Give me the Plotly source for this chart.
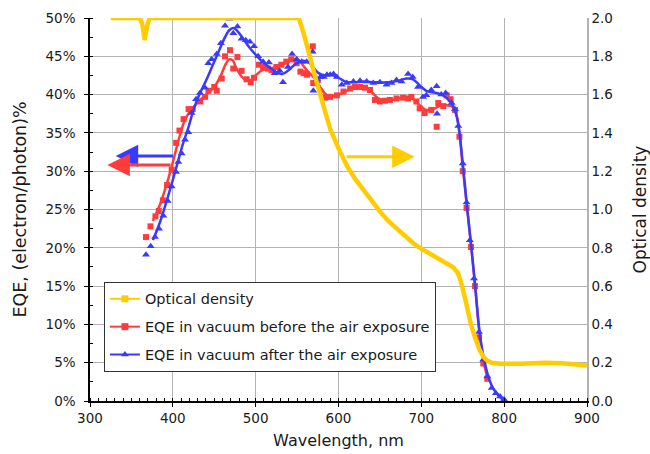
import plotly.graph_objects as go

# ---------------- data ----------------
od_wl = [325, 360, 363, 366, 369, 372, 450, 552, 558, 565, 572, 580, 590, 600, 610, 620,
         630, 640, 650, 660, 670, 680, 690, 700, 710, 720, 730, 738, 744, 748, 752, 756,
         760, 765, 770, 775, 780, 785, 795, 820, 850, 870, 890, 900]
od_val = [2.0, 2.0, 1.97, 1.885, 1.96, 2.0, 2.0, 2.0, 1.92, 1.80, 1.69, 1.57, 1.42, 1.32, 1.23, 1.16,
          1.10, 1.04, 0.99, 0.94, 0.90, 0.86, 0.825, 0.795, 0.77, 0.745, 0.72, 0.70, 0.67, 0.62, 0.55, 0.47,
          0.40, 0.33, 0.27, 0.23, 0.21, 0.20, 0.195, 0.195, 0.20, 0.197, 0.19, 0.185]

red_wl = [367.6, 373, 379, 383, 388, 393, 398.6, 404, 408, 413, 419, 424, 433, 439, 443, 450, 453,
          459, 463, 469, 473, 478, 483, 489, 494, 498, 504, 509, 515, 519, 525, 531, 537, 543,
          549.5, 554, 558, 562, 569, 569.5, 575, 584, 590, 598, 606, 614, 620, 626, 632, 638,
          644, 650, 656, 662, 670, 678, 684, 688, 694, 698, 704, 712, 718.5, 720.5, 726.5,
          730.6, 735.4, 740.6, 746, 750, 754.6, 760, 764.8, 769.6, 774.8, 779.6]
red_eqe = [21.4, 22.8, 24.1, 24.8, 26.2, 28.2, 30.2, 33.7, 35.3, 36.8, 38.1, 38.1, 39.1, 39.7, 40.5, 41.0, 40.5,
           42.1, 45.0, 45.8, 43.4, 44.9, 43.1, 42.0, 41.6, 42.2, 43.9, 43.6, 43.4, 43.2, 43.6, 43.9, 44.3, 44.6,
           44.1, 43.0, 42.8, 42.6, 46.3, 41.5, 41.9, 39.6, 39.7, 39.9, 40.4, 40.8, 41.0, 41.0, 40.9, 40.6,
           39.3, 39.1, 39.2, 39.3, 39.5, 39.6, 39.5, 39.7, 39.1, 38.2, 37.6, 38.0, 35.8, 38.9, 38.5,
           39.9, 39.4, 38.0, 34.5, 30.0, 25.2, 20.1, 15.0, 8.3, 4.9, 2.9]

red_fit_wl = [376, 385, 395, 402, 408, 415, 422, 430, 440, 450, 458, 463, 468, 472, 476, 482, 488, 494,
              500, 508, 518, 528, 538, 546, 552, 558, 565, 572, 578, 585, 592, 600, 608, 616, 624, 632,
              640, 648, 656, 664, 672, 682, 690, 698, 706, 714, 722, 730, 738, 742, 746, 750, 755, 760,
              765, 770, 775, 780]
red_fit = [23.5, 25.8, 29.2, 32.0, 34.5, 36.8, 38.0, 39.0, 40.0, 41.0, 42.5, 43.8, 44.6, 44.5, 43.6, 42.5, 41.9, 41.9,
           42.5, 43.2, 43.4, 43.7, 44.2, 44.6, 44.5, 43.7, 42.8, 42.0, 41.0, 40.0, 39.8, 40.0, 40.4, 40.8, 41.0, 40.9,
           40.3, 39.5, 39.2, 39.3, 39.5, 39.6, 39.4, 38.6, 38.0, 38.1, 38.5, 38.6, 38.4, 37.6, 35.0, 30.5, 25.5, 20.3,
           15.0, 9.0, 5.2, 3.0]

blue_wl = [367.6, 373.3, 378.5, 383.3, 388.5, 393.8, 398.6, 403.8, 406.6, 410.7, 414.7, 418.7, 422.7, 428,
           432.8, 438.8, 442.8, 446.9, 453, 458, 463, 468, 473, 478, 483, 488, 493, 498, 503, 509, 516,
           523, 529, 533, 539, 544, 549.5, 555.5, 561.6, 568.8, 569.6, 574, 578, 582, 586, 590, 594, 598,
           604, 610, 618, 626, 634, 642, 650, 658, 664, 670, 676, 684, 689.5, 696, 702, 706, 712, 718.5,
           719, 724, 729.4, 736.6, 740.6, 744.6, 750, 754.6, 758.6, 763.6, 769.6, 774.8, 779.6, 785, 790,
           795, 800]
blue_eqe = [19.1, 20.2, 21.4, 22.5, 24.2, 26.1, 28.0, 29.9, 31.2, 32.3, 34.1, 35.1, 37.6, 39.4,
            40.2, 40.9, 44.1, 44.6, 45.3, 46.7, 49.0, 49.9, 48.0, 48.9, 47.3, 47.1, 46.9, 46.3, 45.0, 44.3, 44.2,
            42.8, 43.1, 41.6, 43.6, 45.3, 44.6, 44.3, 44.3, 45.6, 40.5, 42.0, 42.3, 42.3, 42.6, 42.6, 42.7, 42.3,
            41.3, 41.5, 41.7, 41.8, 41.7, 41.5, 41.6, 41.3, 41.5, 41.9, 41.7, 42.7, 42.3, 41.0, 39.7, 39.9, 40.6, 41.1,
            37.5, 40.0, 40.2, 38.9, 38.1, 35.9, 31.0, 25.9, 21.0, 16.0, 9.0, 5.4, 3.2, 1.7, 1.0,
            0.6, 0.2]

blue_fit_wl = [376, 385, 395, 405, 412, 419, 425, 432, 440, 448, 456, 463, 468, 473, 478, 485, 492, 500,
               508, 516, 524, 532, 540, 548, 556, 564, 570, 576, 584, 592, 600, 608, 618, 630, 645, 660,
               672, 682, 690, 698, 706, 714, 722, 730, 738, 744, 750, 755, 760, 765, 770, 775, 780, 785,
               790, 795, 800]
blue_fit = [21.0, 23.5, 27.0, 30.8, 33.5, 35.8, 38.0, 40.0, 41.8, 43.8, 45.8, 47.5, 48.4, 48.7, 48.3, 47.3, 46.2, 45.2,
            44.3, 43.6, 43.0, 42.7, 43.2, 44.0, 44.4, 44.2, 43.5, 42.8, 42.5, 42.6, 42.2, 41.7, 41.6, 41.7, 41.6, 41.6,
            41.8, 42.1, 42.0, 41.2, 40.5, 40.3, 40.1, 39.6, 38.6, 36.5, 31.0, 25.5, 20.5, 15.0, 9.3, 5.8, 3.5, 2.0,
            1.1, 0.5, 0.0]

names = ["Optical density", "EQE in vacuum before the air exposure", "EQE in vacuum after the air exposure"]
YELLOW, RED, BLUE = "#ffcc00", "#ff3b3b", "#3a3aff"
FONT = "DejaVu Sans"

fig = go.Figure()
# optical density (right axis)
fig.add_trace(go.Scatter(x=od_wl, y=od_val, yaxis="y2", mode="lines",
                         line=dict(color=YELLOW, width=4.5), showlegend=False))
# EQE before
fig.add_trace(go.Scatter(x=red_wl, y=red_eqe, mode="markers",
                         marker=dict(symbol="square", size=6, color=RED), showlegend=False))
fig.add_trace(go.Scatter(x=red_fit_wl, y=red_fit, mode="lines", line=dict(color=RED, width=2.5, shape="spline"),
                         showlegend=False))
# EQE after
fig.add_trace(go.Scatter(x=blue_wl, y=blue_eqe, mode="markers",
                         marker=dict(symbol="triangle-up", size=7, color=BLUE), showlegend=False))
fig.add_trace(go.Scatter(x=blue_fit_wl, y=blue_fit, mode="lines", line=dict(color=BLUE, width=2.5, shape="spline"),
                         showlegend=False))
# legend entries
for nm, col, sym in zip(names, [YELLOW, RED, BLUE], ["square", "square", "triangle-up"]):
    fig.add_trace(go.Scatter(x=[None], y=[None], mode="lines+markers", name=nm, legendgroup=nm,
                             marker=dict(symbol=sym, size=7, color=col), line=dict(color=col, width=2)))

# arrows
arrows = [  # (tip x, tip y, tail x, tail y, color, yref)
    (331, 32.0, 402, 32.0, BLUE, "y"),
    (321, 30.8, 399, 30.8, RED, "y"),
    (692, 1.276, 608, 1.276, YELLOW, "y2"),
]
for x1, y1, x0, y0, col, yr in arrows:
    fig.add_annotation(x=x1, y=y1, ax=x0, ay=y0, xref="x", yref=yr, axref="x", ayref=yr,
                       text="", showarrow=True, arrowhead=2, arrowsize=1.5, arrowwidth=3,
                       arrowcolor=col, standoff=0)

grid = "#b3b3b3"
TICKF = dict(size=13.5, color="#1a1a1a")
fig.update_layout(
    width=650, height=454, margin=dict(l=90, r=63, t=18, b=53),
    paper_bgcolor="white", plot_bgcolor="white",
    font=dict(family=FONT, size=14, color="#1a1a1a"),
    xaxis=dict(range=[300, 900], dtick=100, tick0=300, showgrid=True, gridcolor=grid, gridwidth=1,
               showline=True, linecolor="black", linewidth=1.5, ticks="outside", ticklen=4,
               tickcolor="black", zeroline=False, automargin=False, tickfont=TICKF,
               minor=dict(dtick=10, ticks="inside", ticklen=3, tickcolor="black", showgrid=False),
               title=dict(text="Wavelength, nm", font=dict(size=16), standoff=10)),
    yaxis=dict(range=[0, 50], dtick=5, ticksuffix="%", showgrid=True, gridcolor=grid, gridwidth=1,
               showline=True, linecolor="black", linewidth=1.5, ticks="outside", ticklen=4,
               tickcolor="black", zeroline=False, automargin=False, tickfont=TICKF,
               ticklabelstandoff=6,
               minor=dict(dtick=2.5, ticks="inside", ticklen=3, tickcolor="black", showgrid=False),
               title=dict(text="EQE, (electron/photon)%", font=dict(size=17.5), standoff=14)),
    yaxis2=dict(range=[0, 2], dtick=0.2, tickformat=".1f", overlaying="y", side="right",
                showgrid=False, showline=True, linecolor=grid, linewidth=1.5, ticks="", zeroline=False,
                automargin=False, tickfont=TICKF,
                title=dict(text="Optical density", font=dict(size=17), standoff=25)),
    xaxis3=dict(range=[300, 900], dtick=100, tick0=300, overlaying="x", anchor="y", ticks="inside",
                ticklen=4, tickcolor="black", showticklabels=False, showgrid=False, showline=False,
                zeroline=False),
    yaxis3=dict(range=[0, 50], dtick=5, overlaying="y", anchor="x", ticks="inside", ticklen=4,
                tickcolor="black", showticklabels=False, showgrid=False, showline=False, zeroline=False),
    legend=dict(x=0.028, y=0.311, xanchor="left", yanchor="top", bgcolor="white",
                bordercolor="#333333", borderwidth=1, font=dict(size=14.5), tracegroupgap=6,
                traceorder="grouped"),
)
fig.write_html("out.html")
